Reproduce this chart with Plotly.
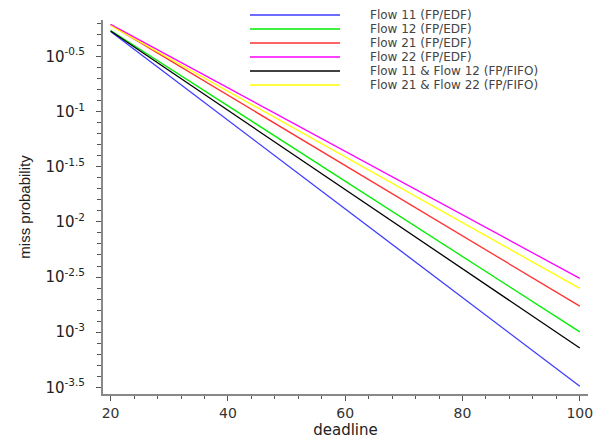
import plotly.graph_objects as go

# data
deadline = [20, 100]
series_names = [
    "Flow 11 (FP/EDF)",
    "Flow 12 (FP/EDF)",
    "Flow 21 (FP/EDF)",
    "Flow 22 (FP/EDF)",
    "Flow 11 & Flow 12 (FP/FIFO)",
    "Flow 21 & Flow 22 (FP/FIFO)",
]
flow11_edf = [0.531, 0.000324]
flow12_edf = [0.543, 0.001007]
flow21_edf = [0.610, 0.001722]
flow22_edf = [0.617, 0.003076]
flow11_12_fifo = [0.537, 0.000719]
flow21_22_fifo = [0.603, 0.002495]
y_exponents = ["-0.5", "-1", "-1.5", "-2", "-2.5", "-3", "-3.5"]
x_ticks = [20, 40, 60, 80, 100]

series_values = [flow11_edf, flow12_edf, flow21_edf, flow22_edf, flow11_12_fifo, flow21_22_fifo]
colors = ["#3c3cff", "#00ee00", "#ff3030", "#ff00ff", "#000000", "#ffff00"]

fig = go.Figure()
for name, vals, col in zip(series_names, series_values, colors):
    fig.add_trace(go.Scatter(x=deadline, y=vals, mode="lines", name=name,
                             line=dict(color=col, width=1.3), showlegend=False))

# manual compact legend
leg_top = 15
leg_gap = 14
for i, (name, col) in enumerate(zip(series_names, colors)):
    yy = leg_top + i * leg_gap
    fig.add_shape(type="line", xref="paper", yref="paper",
                  x0=(250 - 103) / 485, x1=(340 - 103) / 485,
                  y0=1 - (yy - 20) / 374, y1=1 - (yy - 20) / 374,
                  line=dict(color=col, width=1.5))
    fig.add_annotation(text=name, xref="paper", yref="paper",
                       x=(369 - 103) / 485, y=1 - (yy - 20) / 374,
                       xanchor="left", yanchor="middle", showarrow=False,
                       borderpad=0,
                       font=dict(family="DejaVu Sans", size=12, color="#444444"))

ytickvals = [10 ** float(e) for e in y_exponents]
yticktext = ["10<sup>%s</sup>" % e for e in y_exponents]
minor_y = [10 ** (-k / 10) for k in range(2, 36)]

fig.update_layout(
    width=609, height=440,
    margin=dict(l=103, r=21, t=20, b=46),
    paper_bgcolor="white", plot_bgcolor="white",
    font=dict(family="DejaVu Sans", size=13, color="#222222"),
    xaxis=dict(
        automargin=False,
        range=[18.7, 101.4], tickvals=x_ticks, ticktext=[str(v) for v in x_ticks],
        showgrid=False, zeroline=False, showline=True, linecolor="#888888", linewidth=2,
        ticks="outside", ticklen=5, tickcolor="#555555", tickwidth=1,
        minor=dict(dtick=4, tick0=0, ticks="outside", ticklen=3, tickcolor="#555555", showgrid=False),
        title=dict(text="deadline", font=dict(size=15), standoff=5),
        tickfont=dict(size=14, color="#333333"),
    ),
    yaxis=dict(
        automargin=False,
        type="log", range=[-3.56, -0.17],
        tickvals=ytickvals, ticktext=yticktext,
        showgrid=False, zeroline=False, showline=True, linecolor="#888888", linewidth=2,
        ticks="outside", ticklen=5, tickcolor="#555555", tickwidth=1,
        minor=dict(tickvals=minor_y, ticks="outside", ticklen=4, tickcolor="#555555", showgrid=False),
        title=dict(text="miss probability", font=dict(family="Liberation Sans", size=15), standoff=11),
        tickfont=dict(size=15, color="#222222"),
        ticklabelstandoff=8,
    ),
)

fig.write_html("out.html", config={"displayModeBar": False},
               post_script="document.body.style.margin='0';")
